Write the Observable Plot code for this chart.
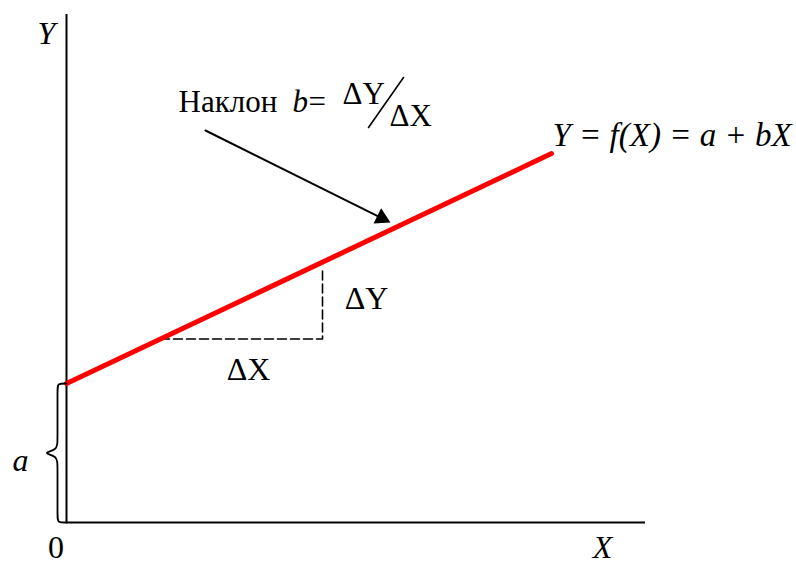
<!DOCTYPE html>
<html>
<head>
<meta charset="utf-8">
<script src="https://cdn.jsdelivr.net/npm/d3@7"></script>
<script src="https://cdn.jsdelivr.net/npm/@observablehq/plot@0.6"></script>
<style>
  html, body { margin: 0; padding: 0; background: #fff; }
  svg text { font-family: "Liberation Serif", "Times New Roman", "DejaVu Serif", serif; }
</style>
</head>
<body>
<div id="chart"></div>
<script>
// Model: Y = a + bX
const intercept = 1.39;      // a
const slope = 0.474;         // b
const xLineEnd = 4.85;       // red line drawn from X = 0 to here
const xAxisEnd = 5.79;
const yAxisEnd = 5.08;
// slope triangle
const deltaX0 = 0.94;
const deltaX1 = 2.56;
const deltaYTop = 2.55;
// annotation arrow (start, tip)
const arrowFrom = [1.39, 3.92];
const arrowTip = [3.24, 3.00];

const f = x => intercept + slope * x;
const lineData = [{x: 0, y: f(0)}, {x: xLineEnd, y: f(xLineEnd)}];
const yd = f(deltaX0);
const dashData = [
  {x: deltaX0, y: yd}, {x: deltaX1, y: yd}, {x: deltaX1, y: deltaYTop}
];

// brace for "a" (control points of a B-spline)
const r = 0.09;
const mid = intercept / 2;
const braceData = [
  [0, intercept], [-r, intercept], [-r, intercept - 0.05], [-r, mid + 0.12],
  [-r, mid + 0.03], [-0.25, mid], [-r, mid - 0.03], [-r, mid - 0.12],
  [-r, 0.05], [-r, 0], [0, 0]
].map(([x, y]) => ({x, y}));

// arrow head position (triangle centroid a bit behind the tip)
const adx = arrowTip[0] - arrowFrom[0], ady = arrowTip[1] - arrowFrom[1];
const alen = Math.hypot(adx, ady);
const headBack = 0.098;
const headCenter = {x: arrowTip[0] - headBack * adx / alen, y: arrowTip[1] - headBack * ady / alen};
const headAngle = 90 + Math.atan2(-ady, adx) * 180 / Math.PI;

const font = "Liberation Serif";

// annotation labels: group "axis" (axes and deltas), "slope" (slope note), "eq" (equation)
const labels = [
  {x: -0.20, y: 4.79, t: "Y", italic: true, anchor: "middle", group: "axis"},
  {x: -0.105, y: -0.35, t: "0", italic: false, anchor: "middle", group: "axis"},
  {x: 5.36, y: -0.35, t: "X", italic: true, anchor: "middle", group: "axis"},
  {x: -0.46, y: 0.52, t: "a", italic: true, anchor: "middle", group: "axis"},
  {x: 1.82, y: 1.43, t: "ΔX", italic: false, anchor: "middle", group: "axis"},
  {x: 3.00, y: 2.14, t: "ΔY", italic: false, anchor: "middle", group: "axis"},
  {x: 1.12, y: 4.11, t: "Наклон", italic: false, anchor: "start", group: "slope"},
  {x: 2.26, y: 4.11, t: "b", italic: true, anchor: "start", group: "slope"},
  {x: 2.42, y: 4.11, t: "=", italic: false, anchor: "start", group: "slope"},
  {x: 2.76, y: 4.19, t: "ΔY", italic: false, anchor: "start", group: "slope"},
  {x: 3.23, y: 3.97, t: "ΔX", italic: false, anchor: "start", group: "slope"},
  {x: 4.86, y: 3.77, t: "Y = f(X) = a + bX", italic: true, anchor: "start", group: "eq"}
];
const slash = [{x: 3.02, y: 3.95}, {x: 3.37, y: 4.45}];

const groupSize = {axis: 32, slope: 31, eq: 33};
const textMarks = [];
for (const group of Object.keys(groupSize)) {
  for (const italic of [true, false]) {
    for (const anchor of ["start", "middle"]) {
      const data = labels.filter(d => d.group === group && d.italic === italic && d.anchor === anchor);
      if (!data.length) continue;
      textMarks.push(Plot.text(data, {
        x: "x", y: "y", text: "t", textAnchor: anchor, lineAnchor: "bottom",
        fontSize: groupSize[group], fontFamily: font, fontStyle: italic ? "italic" : "normal", fill: "black"
      }));
    }
  }
}

const chart = Plot.plot({
  width: 796,
  height: 563,
  margin: 0,
  style: {background: "white", fontFamily: font, fontSize: "32px"},
  x: {domain: [-0.66, 7.30], axis: null},
  y: {domain: [-0.41, 5.22], axis: null},
  marks: [
    Plot.ruleX([0], {y1: 0, y2: yAxisEnd, stroke: "black", strokeWidth: 2}),
    Plot.ruleY([0], {x1: 0, x2: xAxisEnd, stroke: "black", strokeWidth: 2}),
    Plot.line(dashData, {x: "x", y: "y", stroke: "black", strokeWidth: 1.6, strokeDasharray: "9,4"}),
    Plot.line(lineData, {x: "x", y: "y", stroke: "#ff0000", strokeWidth: 5}),
    Plot.line(braceData, {x: "x", y: "y", curve: "basis", stroke: "black", strokeWidth: 1.8}),
    Plot.line([{x: arrowFrom[0], y: arrowFrom[1]}, headCenter], {x: "x", y: "y", stroke: "black", strokeWidth: 2}),
    Plot.dot([headCenter], {x: "x", y: "y", symbol: "triangle", r: 6.3, fill: "black", stroke: "none", rotate: headAngle}),
    Plot.line(slash, {x: "x", y: "y", stroke: "black", strokeWidth: 1.6}),
    ...textMarks
  ]
});
document.getElementById("chart").appendChild(chart);
</script>
</body>
</html>
